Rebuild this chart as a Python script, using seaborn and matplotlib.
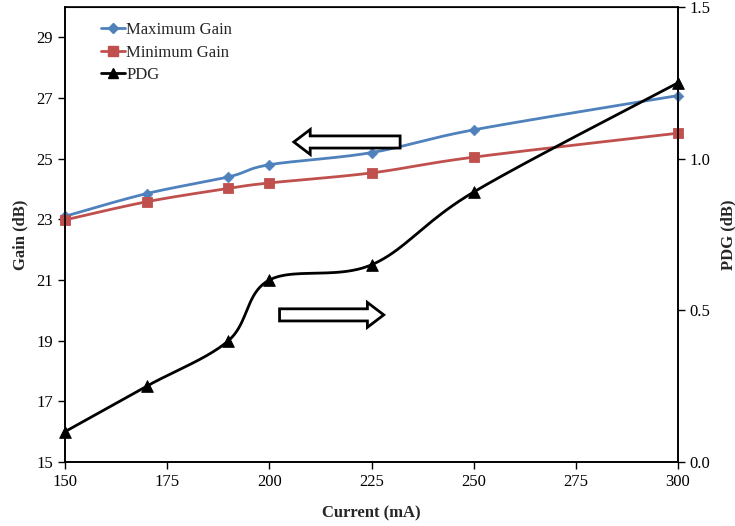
import numpy as np
import matplotlib
matplotlib.use("Agg")
import matplotlib.pyplot as plt
from matplotlib.lines import Line2D
from matplotlib.patches import FancyArrow
import seaborn as sns

current = [150, 170, 190, 200, 225, 250, 300]
max_gain = [23.1, 23.85, 24.4, 24.8, 25.2, 25.95, 27.08]
min_gain = [22.98, 23.58, 24.02, 24.2, 24.53, 25.05, 25.84]
pdg = [0.10, 0.25, 0.40, 0.60, 0.65, 0.89, 1.25]
gain_ticks = [15, 17, 19, 21, 23, 25, 27, 29]
pdg_ticks = [0.0, 0.5, 1.0, 1.5]
x_ticks = [150, 175, 200, 225, 250, 275, 300]

sns.set_style("white")
plt.rcParams['font.family'] = ['Liberation Serif', 'DejaVu Serif']

W, H = 7.35, 5.26
fig = plt.figure(figsize=(W, H), dpi=100)
ax = fig.add_axes([65/735, 64/526, (678-65)/735, (462-7)/526])
ax2 = ax.twinx()

XLIM = (150, 300)
GLIM = (15, 30)
PLIM = (0.0, 1.5)
PX_W, PX_H = 613.0, 455.0
FS = 12


def smooth(xs, ys, ylim, n=40):
    # Excel-style smoothed line (Catmull-Rom Bezier) computed in pixel space
    xs = np.asarray(xs, float); ys = np.asarray(ys, float)
    px = (xs - XLIM[0]) / (XLIM[1] - XLIM[0]) * PX_W
    py = (ys - ylim[0]) / (ylim[1] - ylim[0]) * PX_H
    P = np.column_stack([px, py])
    out = []
    m = len(P)
    for i in range(m - 1):
        p0 = P[i - 1] if i > 0 else P[i]
        p1 = P[i]; p2 = P[i + 1]
        p3 = P[i + 2] if i + 2 < m else P[i + 1]
        c1 = p1 + (p2 - p0) / 6.0
        c2 = p2 - (p3 - p1) / 6.0
        t = np.linspace(0, 1, n)[:, None]
        seg = (1-t)**3 * p1 + 3*(1-t)**2*t*c1 + 3*(1-t)*t**2*c2 + t**3*p2
        out.append(seg if i == 0 else seg[1:])
    S = np.vstack(out)
    sx = S[:, 0] / PX_W * (XLIM[1] - XLIM[0]) + XLIM[0]
    sy = S[:, 1] / PX_H * (ylim[1] - ylim[0]) + ylim[0]
    return sx, sy

BLUE = '#4F81BD'
RED = '#C0504D'

sx, sy = smooth(current, max_gain, GLIM)
ax.plot(sx, sy, color=BLUE, lw=2, zorder=3)
sns.scatterplot(x=current, y=max_gain, ax=ax, marker='D', s=30, color=BLUE,
                edgecolor=BLUE, zorder=4, legend=False, clip_on=False)
sx, sy = smooth(current, min_gain, GLIM)
ax.plot(sx, sy, color=RED, lw=2, zorder=3)
sns.scatterplot(x=current, y=min_gain, ax=ax, marker='s', s=55, color=RED,
                edgecolor=RED, zorder=4, legend=False, clip_on=False)
sx, sy = smooth(current, pdg, PLIM)
ax2.plot(sx, sy, color='black', lw=2, zorder=3)
sns.scatterplot(x=current, y=pdg, ax=ax2, marker='^', s=70, color='black',
                edgecolor='black', zorder=4, legend=False, clip_on=False)

ax.set_xlim(*XLIM)
ax.set_ylim(*GLIM)
ax2.set_ylim(*PLIM)
ax.set_xticks(x_ticks)
ax.set_yticks(gain_ticks)
ax2.set_yticks(pdg_ticks)
ax2.set_yticklabels([f"{v:.1f}" for v in pdg_ticks])

for a in (ax, ax2):
    for s in a.spines.values():
        s.set_color('black'); s.set_linewidth(1.2)
    a.tick_params(direction='out', length=5, width=1, colors='black', labelsize=FS)
ax.tick_params(axis='y', left=True, right=False)
ax.tick_params(axis='x', bottom=True)
ax2.tick_params(axis='y', right=True, left=False)
ax.spines['top'].set_linewidth(0.8)

ax.set_xlabel('Current (mA)', fontsize=FS, fontweight='bold', labelpad=11)
ax.set_ylabel('Gain (dB)', fontsize=FS, fontweight='bold', labelpad=6)
ax2.set_ylabel('PDG (dB)', fontsize=FS, fontweight='bold', labelpad=7)

# block arrows
ax.add_patch(FancyArrow(232, 25.55, -26, 0, width=0.40, head_width=0.82,
                        head_length=4, length_includes_head=True,
                        facecolor='white', edgecolor='black', lw=2, zorder=5))
ax.add_patch(FancyArrow(202.5, 19.85, 25.5, 0, width=0.40, head_width=0.82,
                        head_length=4, length_includes_head=True,
                        facecolor='white', edgecolor='black', lw=2, zorder=5))

handles = [
    Line2D([], [], color=BLUE, lw=2, marker='D', markersize=5),
    Line2D([], [], color=RED, lw=2, marker='s', markersize=7),
    Line2D([], [], color='black', lw=2, marker='^', markersize=7),
]
ax.legend(handles, ['Maximum Gain', 'Minimum Gain', 'PDG'], loc='upper left',
          bbox_to_anchor=(0.04, 0.993), frameon=False, fontsize=FS,
          handlelength=1.45, handletextpad=0.05, labelspacing=0.4,
          borderaxespad=0.3)

fig.savefig('out.png', dpi=100)
